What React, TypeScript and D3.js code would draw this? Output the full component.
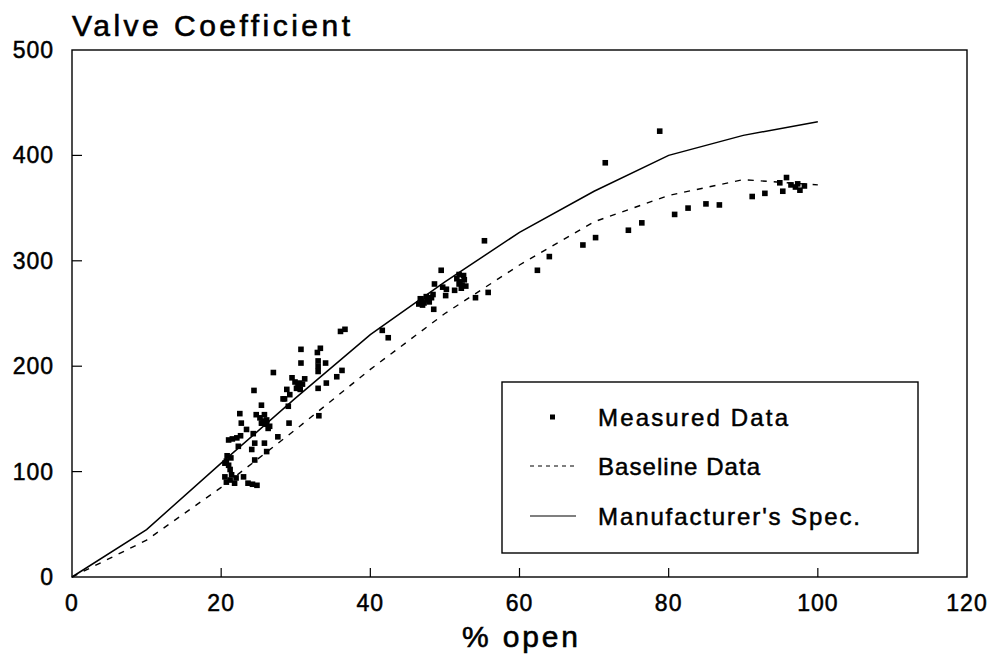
import React, { useEffect, useRef } from 'react';
import * as d3 from 'd3';

const xTicks = [0, 20, 40, 60, 80, 100, 120];
const yTicks = [0, 100, 200, 300, 400, 500];

// manufacturer's spec curve (% open, Cv)
const specX = [0, 10, 20, 30, 40, 50, 60, 70, 80, 90, 100];
const specY = [0, 45, 108, 170, 230, 280, 327, 366, 400, 419, 432];

// baseline curve
const baseX = [0, 10, 20, 30, 40, 50, 60, 70, 80, 90, 100];
const baseY = [0, 35, 85, 140, 197, 250, 296, 337, 362, 377, 372];

// measured points
const measured: [number, number][] = [
  [20.5, 95], [20.7, 90], [21.2, 92], [21.4, 97], [22.0, 94], [23.0, 95],
  [23.6, 89], [24.2, 88], [24.8, 87], [21.8, 89],
  [20.7, 110], [21.0, 106], [21.2, 102], [20.8, 115], [21.3, 113], [20.5, 108],
  [21.0, 130], [21.5, 131], [22.1, 132], [22.6, 134], [22.3, 124],
  [24.3, 136], [24.5, 127], [25.8, 127], [26.1, 119], [24.1, 121], [27.6, 133],
  [24.5, 111], [22.5, 155], [22.7, 146], [23.4, 140],
  [24.7, 154], [25.2, 151], [25.7, 148], [26.1, 145], [26.5, 143], [25.5, 146], [26.3, 141],
  [24.4, 177], [28.3, 169], [25.4, 163], [25.8, 154], [26.1, 149], [25.4, 146],
  [27.0, 194], [28.8, 178], [28.5, 169], [29.2, 173], [29.0, 162], [29.1, 146],
  [29.5, 189], [29.9, 185], [30.3, 181], [30.6, 178], [30.9, 183], [31.2, 188], [30.5, 184], [30.1, 179],
  [30.7, 216], [33.3, 217], [32.9, 213], [30.7, 203], [33.0, 205], [33.0, 200], [33.0, 195],
  [34.0, 203], [36.2, 196], [35.5, 190], [34.1, 184], [33.0, 179], [33.1, 153],
  [36.0, 233], [36.6, 235], [41.6, 234], [42.4, 227],
  [46.5, 259], [46.9, 262], [47.2, 260], [47.6, 263], [47.9, 261], [48.2, 265], [48.4, 268],
  [47.0, 258], [47.5, 266], [46.7, 264], [48.5, 254], [48.6, 278], [49.5, 291],
  [49.7, 275], [50.2, 273], [50.1, 267], [51.3, 272], [51.9, 287],
  [51.6, 283], [52.0, 280], [52.3, 277], [52.6, 282], [52.8, 276], [52.2, 274], [51.9, 278], [52.5, 286],
  [54.1, 265], [55.8, 270], [55.3, 319],
  [62.4, 291], [64.0, 304], [68.5, 315], [70.2, 322], [71.5, 393], [74.6, 329], [76.4, 336],
  [78.8, 423], [80.8, 344], [82.6, 350], [85.0, 354], [86.8, 353],
  [91.2, 361], [92.9, 364], [94.9, 374], [95.3, 366], [95.8, 379], [96.4, 372],
  [97.0, 370], [97.6, 367], [98.2, 371], [97.3, 373],
];

const legendItems = ['Measured Data', 'Baseline Data', "Manufacturer's Spec."];

const FONT = '"Liberation Sans", Arial, sans-serif';

function App() {
  const ref = useRef<SVGSVGElement>(null);

  useEffect(() => {
    const svg = d3.select(ref.current);
    svg.selectAll('*').remove();

    const x = d3.scaleLinear().domain([0, 120]).range([72, 967]);
    const y = d3.scaleLinear().domain([0, 500]).range([577, 50]);

    const addText = (g, tx, ty, str, size, opts: any = {}) =>
      g
        .append('text')
        .attr('x', tx)
        .attr('y', ty)
        .attr('font-family', FONT)
        .attr('font-size', size)
        .attr('fill', '#000')
        .attr('stroke', '#000')
        .attr('stroke-width', opts.sw ?? 0.5)
        .attr('text-anchor', opts.anchor ?? 'start')
        .attr('textLength', opts.len ?? null)
        .attr('lengthAdjust', opts.len ? 'spacing' : null)
        .attr('letter-spacing', opts.ls ?? null)
        .text(str);

    // frame
    svg
      .append('rect')
      .attr('x', x(0))
      .attr('y', y(500))
      .attr('width', x(120) - x(0))
      .attr('height', y(0) - y(500))
      .attr('fill', 'none')
      .attr('stroke', '#000')
      .attr('stroke-width', 1.4);

    // inward ticks
    svg
      .selectAll('.xt')
      .data(xTicks.slice(1, -1))
      .enter()
      .append('line')
      .attr('x1', (d) => x(d))
      .attr('x2', (d) => x(d))
      .attr('y1', y(0))
      .attr('y2', y(0) - 9)
      .attr('stroke', '#000')
      .attr('stroke-width', 1.2);

    svg
      .selectAll('.yt')
      .data(yTicks.slice(1, -1))
      .enter()
      .append('line')
      .attr('x1', x(0))
      .attr('x2', x(0) + 10)
      .attr('y1', (d) => y(d))
      .attr('y2', (d) => y(d))
      .attr('stroke', '#000')
      .attr('stroke-width', 1.2);

    // tick labels
    xTicks.forEach((d) =>
      addText(svg, x(d), 611, String(d), 23, { anchor: 'middle', ls: 1 })
    );
    yTicks.forEach((d) =>
      addText(svg, 54, y(d) + 8, String(d), 23, { anchor: 'end', ls: 1 })
    );

    // titles
    addText(svg, 72, 36, 'Valve Coefficient', 30, { len: 278, sw: 0.6 });
    addText(svg, 520, 647, '% open', 30, { anchor: 'middle', len: 116, sw: 0.6 });

    const path = d3
      .line<[number, number]>()
      .x((d) => x(d[0]))
      .y((d) => y(d[1]));

    svg
      .append('path')
      .attr('d', path(specX.map((v, i) => [v, specY[i]])))
      .attr('fill', 'none')
      .attr('stroke', '#000')
      .attr('stroke-width', 1.5);

    svg
      .append('path')
      .attr('d', path(baseX.map((v, i) => [v, baseY[i]])))
      .attr('fill', 'none')
      .attr('stroke', '#000')
      .attr('stroke-width', 1.4)
      .attr('stroke-dasharray', '6,7');

    svg
      .selectAll('.pt')
      .data(measured)
      .enter()
      .append('rect')
      .attr('x', (d) => x(d[0]) - 2.8)
      .attr('y', (d) => y(d[1]) - 2.8)
      .attr('width', 5.6)
      .attr('height', 5.6)
      .attr('fill', '#000');

    // legend
    const lg = svg.append('g');
    lg.append('rect')
      .attr('x', 502)
      .attr('y', 382)
      .attr('width', 416)
      .attr('height', 171)
      .attr('fill', '#fff')
      .attr('stroke', '#000')
      .attr('stroke-width', 1.4);

    const rowY = [417, 466, 516];
    const textLens = [190, 162, 262];
    legendItems.forEach((label, i) => {
      if (i === 0) {
        lg.append('rect')
          .attr('x', 550)
          .attr('y', rowY[i] - 2.5)
          .attr('width', 5)
          .attr('height', 5)
          .attr('fill', '#000');
      } else {
        lg.append('line')
          .attr('x1', 530)
          .attr('x2', 576)
          .attr('y1', rowY[i])
          .attr('y2', rowY[i])
          .attr('stroke', '#000')
          .attr('stroke-width', 1.1)
          .attr('stroke-dasharray', i === 1 ? '4,4' : null);
      }
      addText(lg, 598, rowY[i] + 9, label, 24, { len: textLens[i] });
    });
  }, []);

  return (
    <svg
      ref={ref}
      width={992}
      height={660}
      style={{ position: 'absolute', left: 0, top: 0, background: '#fff' }}
    />
  );
}

export default App;
